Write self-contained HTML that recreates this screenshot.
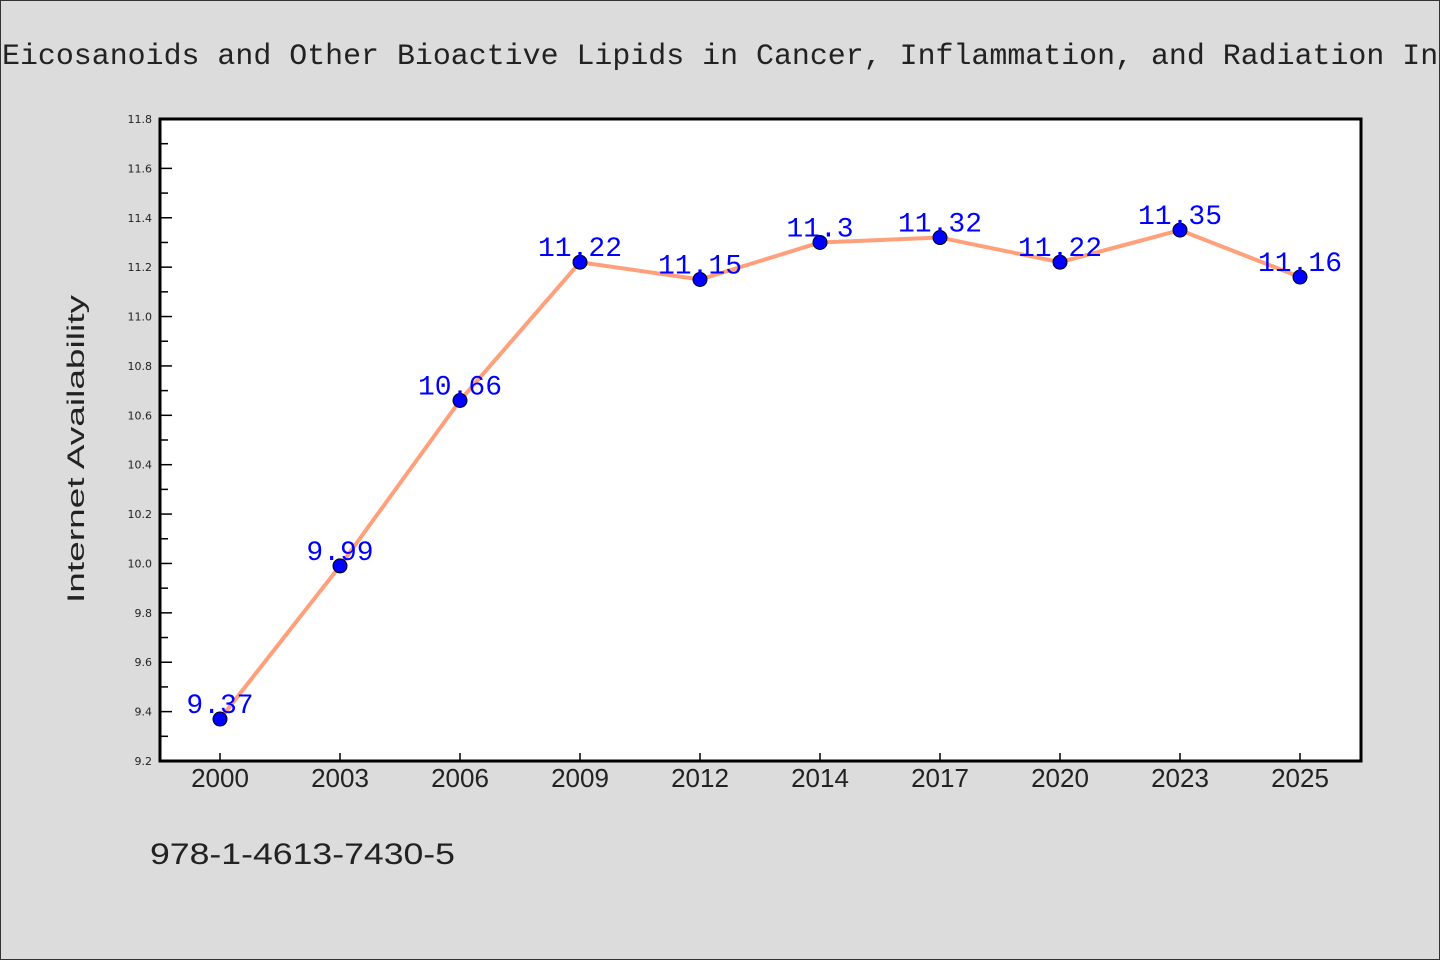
<!DOCTYPE html>
<html><head><meta charset="utf-8"><style>
html,body{margin:0;padding:0;background:#dcdcdc;}
svg{display:block;}
</style></head><body>
<svg width="1440" height="960" xmlns="http://www.w3.org/2000/svg">
<rect x="0.5" y="0.5" width="1439" height="959" fill="#dcdcdc" stroke="#333"/>
<text x="2" y="64" font-family="'WenQuanYi Zen Hei','Liberation Mono',monospace" font-size="30" fill="#222" textLength="1508" lengthAdjust="spacingAndGlyphs">Eicosanoids and Other Bioactive Lipids in Cancer, Inflammation, and Radiation Injury</text>
<rect x="160" y="119" width="1201" height="642" fill="#fff"/>
<g id="axes"></g>
<g id="series"></g>
<rect x="160" y="119" width="1201" height="642" fill="none" stroke="#000" stroke-width="3"/>
<text transform="translate(84,449) rotate(-90)" text-anchor="middle" font-family="'WenQuanYi Zen Hei','Liberation Sans',sans-serif" font-size="24" fill="#222" textLength="308" lengthAdjust="spacingAndGlyphs">Internet Availability</text>
<text x="150" y="864" font-family="'WenQuanYi Zen Hei','Liberation Sans',sans-serif" font-size="30" fill="#222" textLength="305" lengthAdjust="spacingAndGlyphs">978-1-4613-7430-5</text>
</svg>
<script>
const categories = ["2000","2003","2006","2009","2012","2014","2017","2020","2023","2025"];
const values = [9.37,9.99,10.66,11.22,11.15,11.3,11.32,11.22,11.35,11.16];
const labels = ["9.37","9.99","10.66","11.22","11.15","11.3","11.32","11.22","11.35","11.16"];
const yTicks = ["9.2","9.4","9.6","9.8","10.0","10.2","10.4","10.6","10.8","11.0","11.2","11.4","11.6","11.8"];
const NS="http://www.w3.org/2000/svg";
const L=160,R=1361,T=119,B=761,yMin=9.2,yMax=11.8;
const xs=i=>220+i*(1300-220)/(categories.length-1);
const ys=v=>B-(v-yMin)/(yMax-yMin)*(B-T);
const axes=document.getElementById('axes'), ser=document.getElementById('series');
function mk(t,a,p){const e=document.createElementNS(NS,t);for(const k in a)e.setAttribute(k,a[k]);p.appendChild(e);return e;}
yTicks.forEach((t,i)=>{
  const v=parseFloat(t), y=ys(v);
  const tk=mk('line',{x1:L,x2:L+12,y1:y,y2:y,stroke:'#000','stroke-width':1.5},axes);
  
  
  const tx=mk('text',{x:L-8,y:y+4,'text-anchor':'end','font-family':'DejaVu Sans,sans-serif','font-size':11,fill:'#222'},axes);
  tx.textContent=t;
  
  
  if(i<yTicks.length-1){
    const m=ys(v+0.1);
    const mt=mk('line',{x1:L,x2:L+8,y1:m,y2:m,stroke:'#000','stroke-width':1.5},axes);
    
    
  }
});
categories.forEach((c,i)=>{
  const x=xs(i);
  const tk=mk('line',{x1:x,x2:x,y1:B,y2:B-8,stroke:'#000','stroke-width':1.5},axes);
  
  
  const tx=mk('text',{x:x,y:B+26,'text-anchor':'middle','font-family':"'WenQuanYi Zen Hei','Liberation Sans',sans-serif",'font-size':26,fill:'#222'},axes);
  tx.textContent=c;
  
  
});
const pl=mk('polyline',{points:values.map((v,i)=>xs(i)+','+ys(v)).join(' '),fill:'none',stroke:'#ffa07a','stroke-width':4,'stroke-linejoin':'round'},ser);


values.forEach((v,i)=>{
  const c=mk('circle',{cx:xs(i),cy:ys(v),r:7,fill:'#0000ff',stroke:'#000','stroke-width':1},ser);
  
  
});
values.forEach((v,i)=>{
  const t=mk('text',{x:xs(i),y:ys(v)-6,'text-anchor':'middle','font-family':"'WenQuanYi Zen Hei','Liberation Mono',monospace",'font-size':28,fill:'#0000ff'},ser);
  t.textContent=labels[i];
  
  
});
</script>
</body></html>
